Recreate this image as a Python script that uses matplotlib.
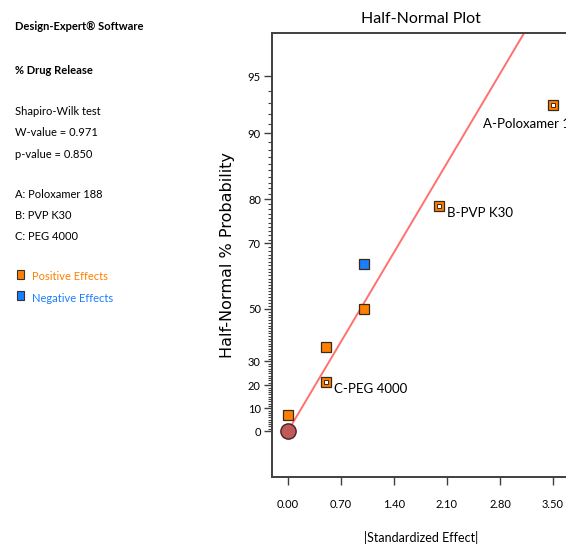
import numpy as np
import matplotlib.pyplot as plt
from statistics import NormalDist

# effects from the 2^3 design (absolute standardized effect, half-normal %)
effects = [0.0, 0.5, 0.5, 1.0, 1.0, 2.0, 3.5]
probs = [7.14, 21.43, 35.71, 50.0, 64.29, 78.57, 92.86]
signs = ['+', '+', '+', '+', '-', '+', '+']
names = ['', 'C-PEG 4000', '', '', '', 'B-PVP K30', 'A-Poloxamer 188']

line_slope = 0.705  # z per unit effect, line through origin

ytick_vals = [0, 10, 20, 30, 50, 70, 80, 90, 95]
xtick_vals = [0.0, 0.7, 1.4, 2.1, 2.8, 3.5]

info_lines = ['Shapiro-Wilk test', 'W-value = 0.971', 'p-value = 0.850']
factor_lines = ['A: Poloxamer 188', 'B: PVP K30', 'C: PEG 4000']

nd = NormalDist()
def hn(p):
    # half-normal probability scale
    p = np.atleast_1d(np.asarray(p, dtype=float))
    return np.array([nd.inv_cdf(0.5 + v / 200.0) for v in p])

narrow = ['Lato', 'DejaVu Sans']
orange = '#ff8000'
blue = '#1a7fff'

fig = plt.figure(figsize=(5.66, 5.44), dpi=100)
ax = fig.add_axes([272/566, 1-477/544, 298/566, 444/544])

ax.set_xlim(-0.211, 3.725)
ax.set_ylim(-0.254, 2.199)

xx = np.linspace(0, 3.725, 50)
ax.plot(xx, line_slope * xx, color='#ff7070', lw=1.4, zorder=2)

z = hn(probs)
for x, zz, s, n in zip(effects, z, signs, names):
    c = orange if s == '+' else blue
    ax.plot(x, zz, 's', ms=6.5, mfc=c, mec='#3a2a1a', mew=0.9, zorder=4)
    if n:
        ax.plot(x, zz, 's', ms=3, mfc='white', mec='#3a2a1a', mew=0.7, zorder=5)

ax.plot(0, 0, 'o', ms=11, mfc='#bf5a5a', mec='#4a2020', mew=1.0, zorder=3, clip_on=False)

ax.text(effects[6] - 0.92, z[6] - 0.13, names[6], fontsize=9.5, family=narrow)
ax.text(effects[5] + 0.1, z[5] - 0.06, names[5], fontsize=9.5, family=narrow)
ax.text(effects[1] + 0.11, z[1] - 0.06, names[1], fontsize=9.5, family=narrow)

for sp in ['left', 'bottom', 'top']:
    ax.spines[sp].set_color('#404040')
    ax.spines[sp].set_linewidth(1.4)
ax.spines['right'].set_visible(False)

ax.set_yticks(hn(ytick_vals))
ax.set_yticklabels([str(v) for v in ytick_vals], family=narrow, fontsize=8)
minor = [v for v in range(1, 95) if v not in ytick_vals]
ax.set_yticks(hn(minor), minor=True)
ax.set_xticks(xtick_vals)
ax.set_xticklabels(['%.2f' % v for v in xtick_vals], family=narrow, fontsize=8)
ax.tick_params(axis='both', which='major', length=6, width=1, color='#404040', pad=2)
ax.tick_params(axis='y', which='minor', length=3, width=0.8, color='#404040')
ax.tick_params(axis='x', pad=10)

ax.set_title('Half-Normal Plot', family=narrow, fontsize=11.5, pad=7)
ax.set_xlabel('|Standardized Effect|', family=narrow, fontsize=9, labelpad=15)
ax.set_ylabel('Half-Normal % Probability', family='DejaVu Sans', fontsize=11.5, labelpad=9)

# side panel
fig.text(15/566, 1-27/544, 'Design-Expert® Software', fontsize=8, weight='bold', family=narrow, va='center')
fig.text(15/566, 1-70/544, '% Drug Release', fontsize=8, weight='bold', family=narrow, va='center')
for i, t in enumerate(info_lines):
    fig.text(15/566, 1-(112+21*i)/544, t, fontsize=8, family=narrow, va='center')
for i, t in enumerate(factor_lines):
    fig.text(15/566, 1-(195+21*i)/544, t, fontsize=8, family=narrow, va='center')

for i, (lab, c) in enumerate([('Positive Effects', orange), ('Negative Effects', blue)]):
    yy = 1 - (277 + 21*i) / 544
    fig.patches.append(plt.Rectangle((17/566, yy - 2/544), 7/566, 9/544, transform=fig.transFigure,
                                     facecolor=c, edgecolor='#333333', lw=0.8))
    fig.text(32/566, yy, lab, fontsize=8, family=narrow, color=c, va='center')

fig.savefig('out.png', dpi=100)
